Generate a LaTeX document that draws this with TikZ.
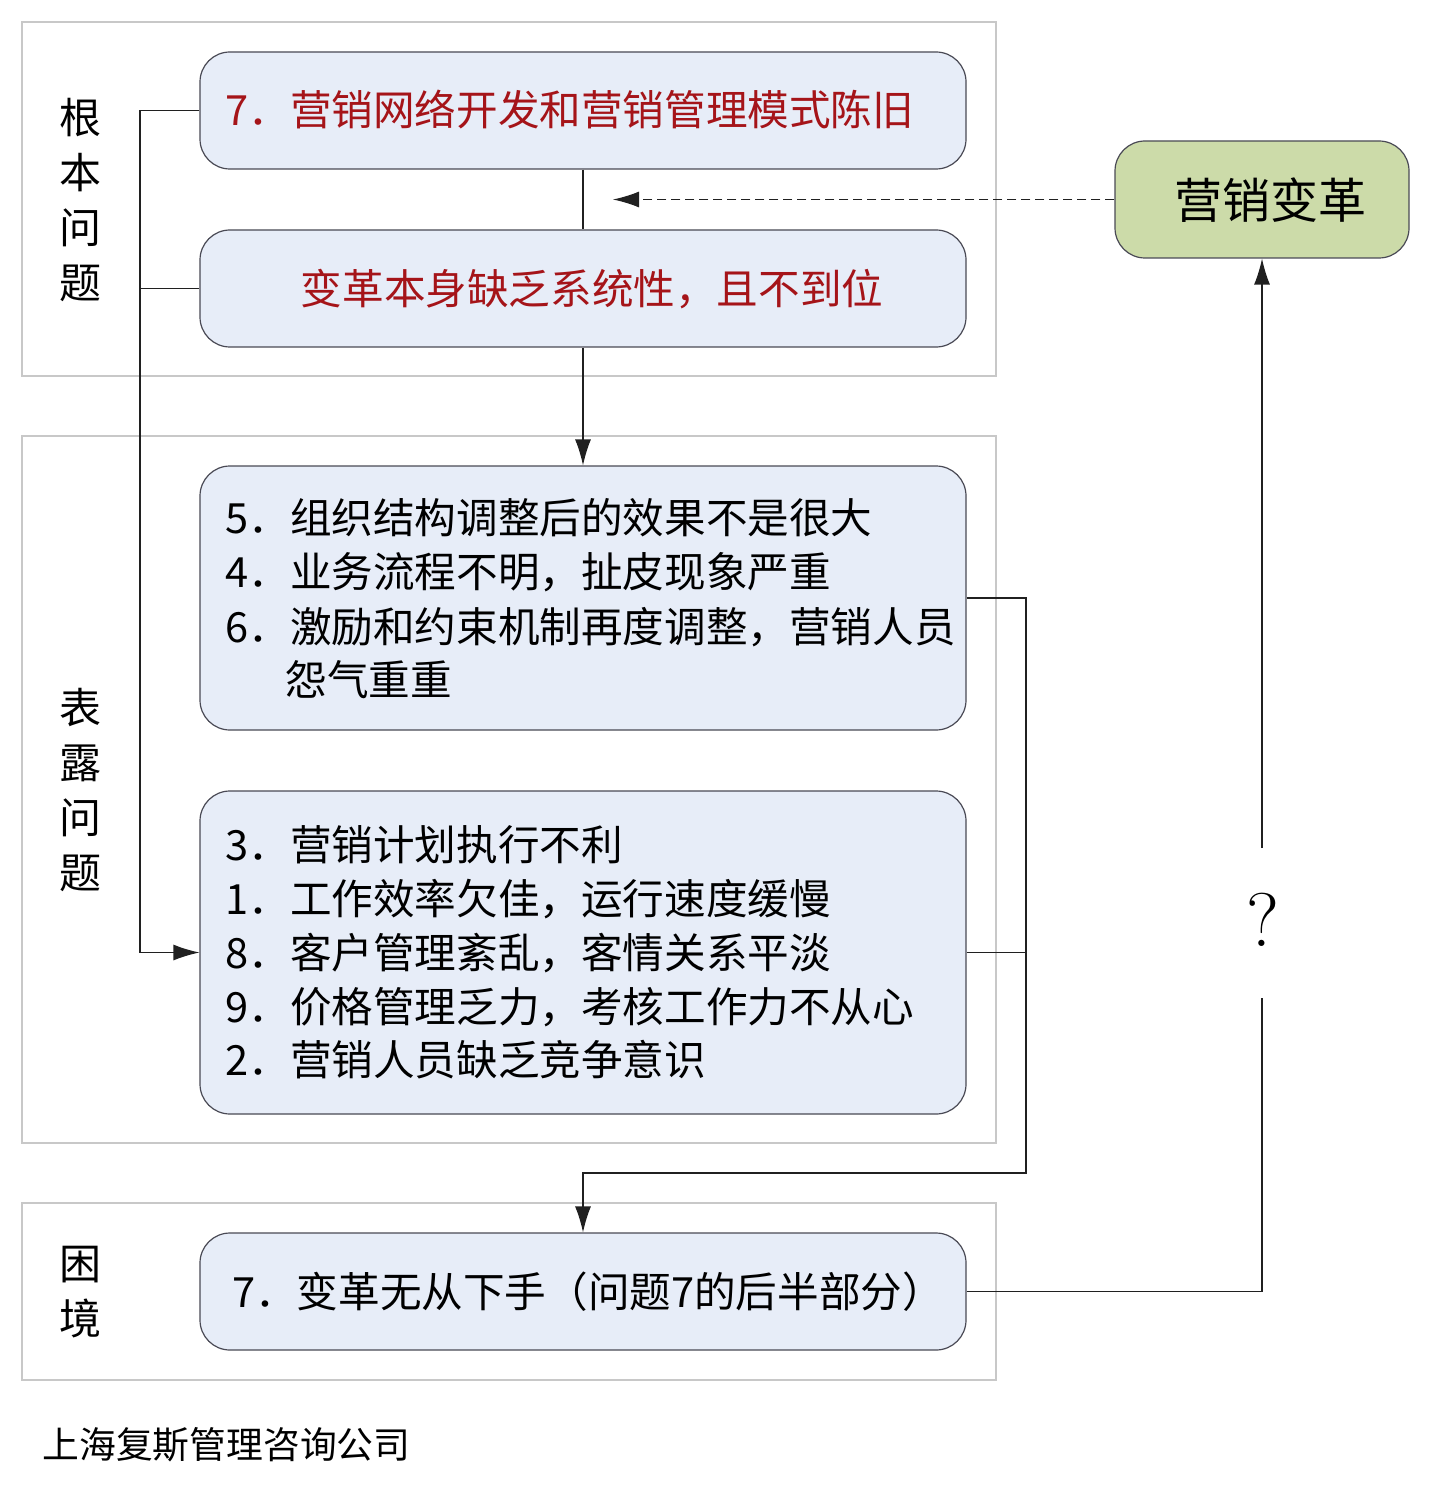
\documentclass[tikz,border=0pt]{standalone}
\usepackage{fontspec}
\setmainfont{Noto Sans CJK SC}
\newfontfamily\lmfont{Latin Modern Roman}
\usetikzlibrary{arrows.meta}
\definecolor{boxfill}{HTML}{E7EDF8}
\definecolor{boxline}{HTML}{4A4A55}
\definecolor{greenfill}{HTML}{CCDBA9}
\definecolor{darkred}{HTML}{A51419}
\definecolor{panelline}{HTML}{C8C8C8}
\definecolor{conn}{HTML}{202020}
\tikzset{
  panel/.style={draw=panelline,line width=0.8pt,fill=white},
  probbox/.style={draw=boxline,fill=boxfill,rounded corners=15pt,line width=0.6pt,minimum width=383pt,inner sep=0pt},
  greenbox/.style={draw=boxline,fill=greenfill,rounded corners=15pt,line width=0.6pt,minimum width=147pt,minimum height=58.5pt,inner sep=0pt},
  txt/.style={inner sep=0pt,font=\fontsize{20.8pt}{27pt}\selectfont},
  redtxt/.style={txt,text=darkred},
  sidelabel/.style={inner sep=0pt,align=center,font=\fontsize{21pt}{27.5pt}\selectfont},
  wire/.style={draw=conn,line width=0.6pt},
  arr/.style={wire,-{Latex[length=13pt,width=8pt]}},
  dashwire/.style={dash pattern=on 4.5pt off 2.5pt},
}
\begin{document}
\begin{tikzpicture}[x=0.5pt,y=-0.5pt]
\useasboundingbox (0,0) rectangle (1432,1492);
% panels
\draw[panel] (22,22) rectangle (996,376);
\draw[panel] (22,436) rectangle (996,1143);
\draw[panel] (22,1203) rectangle (996,1380);
% side labels
\node[sidelabel] (l1) at (80,200) {根\\本\\问\\题};
\node[sidelabel] (l2) at (80,790) {表\\露\\问\\题};
\node[sidelabel] (l3) at (80,1292) {困\\境};
% boxes
\node[probbox,minimum height=58.5pt] (A) at (583,110.5) {};
\node[probbox,minimum height=58.5pt] (B) at (583,288.5) {};
\node[probbox,minimum height=132pt] (C) at (583,598) {};
\node[probbox,minimum height=161.5pt] (D) at (583,952.5) {};
\node[probbox,minimum height=58.5pt] (E) at (583,1291.5) {};
\node[greenbox] (F) at (1262,199.5) {};
% texts
\node[redtxt,anchor=west] (ta) at (225,110) {7．营销网络开发和营销管理模式陈旧};
\node[redtxt] (tb) at (592,289) {变革本身缺乏系统性，且不到位};
\node[txt,anchor=west] (c1) at (225,518) {5．组织结构调整后的效果不是很大};
\node[txt,anchor=west] (c2) at (225,572) {4．业务流程不明，扯皮现象严重};
\node[txt,anchor=west] (c3) at (225,627) {6．激励和约束机制再度调整，营销人员};
\node[txt,anchor=west] (c4) at (285,680) {怨气重重};
\node[txt,anchor=west] (d1) at (225,845) {3．营销计划执行不利};
\node[txt,anchor=west] (d2) at (225,899) {1．工作效率欠佳，运行速度缓慢};
\node[txt,anchor=west] (d3) at (225,953) {8．客户管理紊乱，客情关系平淡};
\node[txt,anchor=west] (d4) at (225,1007) {9．价格管理乏力，考核工作力不从心};
\node[txt,anchor=west] (d5) at (225,1060) {2．营销人员缺乏竞争意识};
\node[txt] (te) at (588,1292) {7．变革无从下手（问题7的后半部分）};
\node[inner sep=0pt,font=\fontsize{24pt}{28pt}\selectfont] (tf) at (1270,200) {营销变革};
\node[inner sep=0pt,font=\lmfont\fontsize{38pt}{40pt}\selectfont] (q) at (1263,920) {?};
\node[inner sep=0pt,anchor=west,font=\fontsize{18.4pt}{22pt}\selectfont] (foot) at (42,1445) {上海复斯管理咨询公司};
% coordinates
\coordinate (dashend) at (613,199.5);
\coordinate (lbus) at (140,110.5);
\coordinate (rbus) at (1026,1173);
\coordinate (qbot) at (1262,998);
\coordinate (qtop) at (1262,848);
% connectors
\draw[wire] (A.south) -- (B.north);
\draw[arr,dashwire] (F.west) -- (dashend);
\draw[arr] (B.south) -- (C.north);
\draw[arr] (A.west) -- (lbus) |- (D.west);
\draw[wire] (B.west) -- (B.west -| lbus);
\draw[arr] (C.east) -| (rbus) -| (E.north);
\draw[wire] (D.east) -- (D.east -| rbus);
\draw[wire] (E.east) -| (qbot);
\draw[arr] (qtop) -- (F.south);
\end{tikzpicture}
\end{document}
